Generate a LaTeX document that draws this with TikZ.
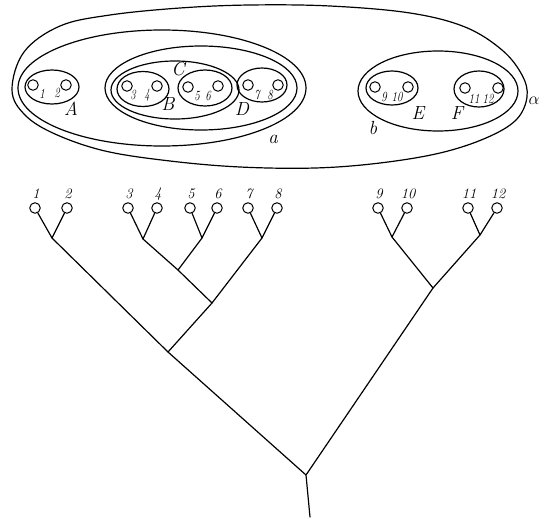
\documentclass[tikz,border=0pt]{standalone}
\usepackage{fontspec}
\usepackage{graphicx}
\usetikzlibrary{shapes.geometric}
\newcommand{\narrowtxt}[1]{\scalebox{0.78}[1]{#1}}
\begin{document}
\begin{tikzpicture}[x=1pt,y=-1pt,
  line/.style={line width=1.2pt, line join=round, line cap=round},
  leaf/.style={circle, draw, line width=1pt, minimum size=10.5pt, inner sep=0pt},
  num/.style={font=\fontsize{14}{14}\selectfont\itshape, inner sep=0pt},
  tnum/.style={font=\fontsize{14.5}{14.5}\selectfont\itshape, inner sep=0pt},
  lab/.style={font=\fontsize{19}{19}\selectfont\itshape, inner sep=0pt}]
\useasboundingbox (0,0) rectangle (546,519);
% ---------- set diagram ----------
% outer alpha
\draw[line] plot[smooth cycle, tension=0.6] coordinates {
 (12,90) (24,52) (60,26) (110,15) (180,8) (250,5) (330,6) (410,13) (465,27) (502,50)
 (522,75) (527,97) (516,120) (486,138) (440,153) (380,163) (315,168) (240,167) (170,161) (105,151) (55,134) (25,115)};
% a
\draw[line] (162,88) ellipse [x radius=144, y radius=58];
% CD
\draw[line] (201,88) ellipse [x radius=96, y radius=42];
% C
\draw[line] (175,90) ellipse [x radius=64, y radius=29];
% A
\draw[line] (52,87) ellipse [x radius=27, y radius=17];
% B
\draw[line] (143,89) ellipse [x radius=26, y radius=17.5];
% 56
\draw[line] (205,88) ellipse [x radius=27, y radius=18];
% D
\draw[line] (262,85) ellipse [x radius=25, y radius=17];
% b
\draw[line] (438,91) ellipse [x radius=80, y radius=40];
% E
\draw[line] (392,88) ellipse [x radius=26, y radius=17];
% F
\draw[line] (479,89) ellipse [x radius=25, y radius=18];
% small circles
\foreach \n/\x/\y in {s1/33/85, s2/66/85, s3/127/86, s4/157/86, s5/188/87, s6/218/86,
  s7/248/85, s8/278/85, s9/375/87, s10/408/87, s11/465/88, s12/498/88}
  \node[leaf] (\n) at (\x,\y) {};
% numbers in sets
\foreach \t/\x/\y in {1/42/94, 2/57/93, 3/133/95, 4/147/95, 5/197/96, 6/208/96,
  7/257/95, 8/270/95, 9/384/97, 10/397/97, 11/474/99, 12/488/99}
  \node[num] at (\x,\y) {\narrowtxt{\t}};
% letters
\node[lab] (tA) at (71,109) {A};
\node[lab] (tB) at (168,104) {B};
\node[lab] (tC) at (178,69) {C};
\node[lab] (tD) at (242,109) {D};
\node[lab] (ta) at (273,139) {a};
\node[lab] (tb) at (373,128) {b};
\node[lab] (tE) at (418,113) {E};
\node[lab] (tF) at (457,113) {F};
\node[lab] (tal) at (534,101) {$\alpha$};
% ---------- dendrogram ----------
\foreach \n/\x in {1/35, 2/67, 3/128, 4/157, 5/190, 6/217, 7/248, 8/277,
  9/378, 10/407, 11/468, 12/497} {
  \node[leaf] (l\n) at (\x,208) {};
  \node[tnum] at (\x+1,194) {\n};
}
\coordinate (j12) at (52,238);
\coordinate (j34) at (143,239);
\coordinate (j56) at (202,238);
\coordinate (j78) at (262,238);
\coordinate (jC) at (178,270);
\coordinate (jCD) at (212,303);
\coordinate (ja) at (168,352);
\coordinate (j910) at (392,237);
\coordinate (j1112) at (480,235);
\coordinate (jb) at (433,288);
\coordinate (root) at (306,475);
\coordinate (stem) at (310,517);
\draw[line] (l1) -- (j12) -- (l2);
\draw[line] (l3) -- (j34) -- (l4);
\draw[line] (l5) -- (j56) -- (l6);
\draw[line] (l7) -- (j78) -- (l8);
\draw[line] (l9) -- (j910) -- (l10);
\draw[line] (l11) -- (j1112) -- (l12);
\draw[line] (j34) -- (jC) -- (jCD);
\draw[line] (j56) -- (jC);
\draw[line] (j78) -- (jCD) -- (ja);
\draw[line] (j12) -- (ja) -- (root);
\draw[line] (j910) -- (jb) -- (j1112);
\draw[line] (jb) -- (root) -- (stem);
\end{tikzpicture}
\end{document}
